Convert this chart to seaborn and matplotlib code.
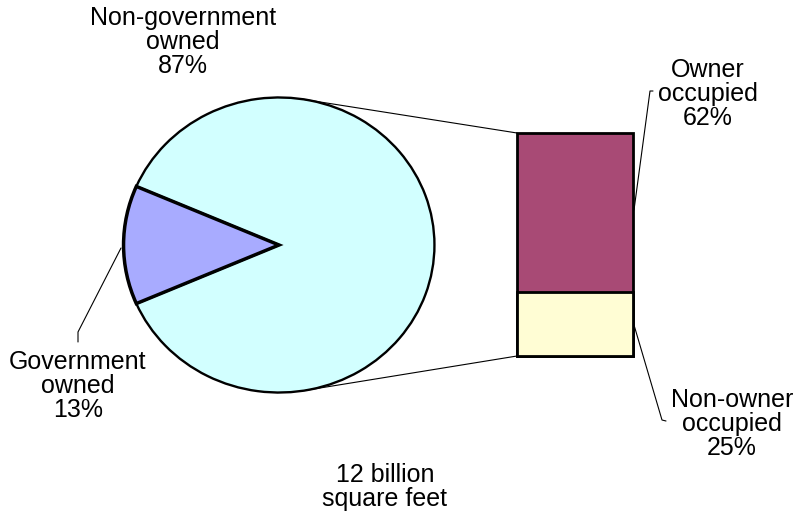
import numpy as np
import pandas as pd
import matplotlib
matplotlib.use("Agg")
import matplotlib.pyplot as plt
from matplotlib.patches import ConnectionPatch
import seaborn as sns

# ---- data ----
pie_labels = ["Government\nowned", "Non-government\nowned"]
pie_values = [13, 87]
bar_labels = ["Owner\noccupied", "Non-owner\noccupied"]
bar_values = [62, 25]
total_note = "12 billion\nsquare feet"

# ---- style ----
sns.set_theme(style="white")
plt.rcParams["font.family"] = ["Liberation Sans", "DejaVu Sans"]

pie_colors = ["#A8ABFF", "#D2FFFF"]
bar_colors = ["#A84A75", "#FFFDD4"]

W, H = 797, 514
fig = plt.figure(figsize=(W / 100, H / 100), dpi=100)

def px_axes(left, top, right, bottom):
    """Axes placed by pixel box (origin top-left)."""
    return fig.add_axes([left / W, 1 - bottom / H, (right - left) / W, (bottom - top) / H])

# overlay axes in pixel units for labels and leader lines
ax = fig.add_axes([0, 0, 1, 1])
ax.set_xlim(0, W)
ax.set_ylim(H, 0)
ax.axis("off")

# ---- main pie ----
pax = px_axes(122, 96, 436, 394)
gov_share = pie_values[0] / sum(pie_values) * 360
wedges, _ = pax.pie(pie_values, colors=pie_colors, startangle=180 - gov_share / 2,
                    counterclock=True,
                    wedgeprops=dict(edgecolor="black", linewidth=1.7))
wedges[0].set_linewidth(2.5)
wedges[0].set_zorder(3)
pax.set_aspect("auto")
pax.set_xlim(-1.01, 1.01)
pax.set_ylim(-1.01, 1.01)
pax.patch.set_alpha(0)
pax.axis("off")

# ---- breakdown bar (stacked) ----
bax = px_axes(517, 133, 633, 356)
stack = pd.DataFrame({"group": ["Non-government", "Non-government"],
                      "part": bar_labels,
                      "top": [sum(bar_values), bar_values[1]]})
for i, row in stack.iterrows():
    sns.barplot(x=[row["group"]], y=[row["top"]], color=bar_colors[i], width=1.0,
                edgecolor="black", linewidth=2.0, saturation=1, ax=bax)
for p in bax.patches:
    p.set_clip_on(False)
bax.set_xlim(-0.5, 0.5)
bax.set_ylim(0, sum(bar_values))
bax.patch.set_alpha(0)
bax.axis("off")

# ---- connectors from the pie to the bar ----
for ang, ybar in [(np.deg2rad(82), sum(bar_values)), (np.deg2rad(-80), 0)]:
    con = ConnectionPatch(xyA=(np.cos(ang), np.sin(ang)), coordsA=pax.transData,
                          xyB=(-0.5, ybar), coordsB=bax.transData,
                          color="black", linewidth=0.8)
    fig.add_artist(con)

# ---- labels ----
fs = 18
txt = dict(ha="center", va="center", fontsize=fs, color="black", linespacing=1.02)
ax.text(183, 42, f"{pie_labels[1]}\n{pie_values[1]}%", **txt)
ax.text(78, 386, f"{pie_labels[0]}\n{pie_values[0]}%", **txt)
ax.text(708, 94, f"{bar_labels[0]}\n{bar_values[0]}%", **txt)
ax.text(732, 424, f"{bar_labels[1]}\n{bar_values[1]}%", **txt)
ax.text(385, 487, total_note, **txt)

# leader lines
lead = dict(color="black", linewidth=0.8)
ax.plot([121, 78, 78], [248, 332, 342], **lead)
ax.plot([634, 650, 653], [210, 91, 91], **lead)
ax.plot([634, 662, 666], [325, 420, 421], **lead)

fig.savefig("out.png", dpi=100, facecolor="white")
